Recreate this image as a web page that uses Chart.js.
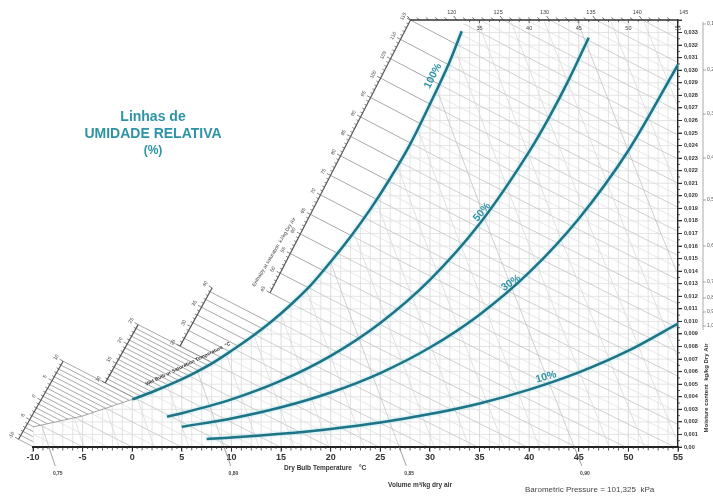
<!DOCTYPE html>
<html>
<head>
<meta charset="utf-8">
<title>Carta psicrométrica</title>
<script src="https://cdn.jsdelivr.net/npm/chart.js@4.4.1/dist/chart.umd.min.js"></script>
<style>
  html, body { margin: 0; padding: 0; background: #fff; }
  canvas { display: block; }
</style>
</head>
<body>
<canvas id="carta" width="713" height="497"></canvas>
<script>
// Curva de saturação (°C, kg/kg ar seco)
const tempSat = [-10, -5, 0, 2, 4, 6, 8, 10, 12, 14, 16, 18, 20, 22, 24, 26, 28, 30, 32, 33.2, 33.6];
const umidSat = [0.0016, 0.00247, 0.00379, 0.00438, 0.00504, 0.00579, 0.00664, 0.00766, 0.00875, 0.00997, 0.01135,
                 0.01289, 0.01475, 0.01674, 0.01894, 0.0214, 0.0241, 0.0273, 0.0307, 0.0331, 0.034];

// Linhas de umidade relativa
const temp50 = [3.5, 5, 10, 15, 20, 25, 30, 35, 40, 42, 44, 46];
const umid50 = [0.00242, 0.00269, 0.00379, 0.00528, 0.00726, 0.00988, 0.01331, 0.01777, 0.02352, 0.02623, 0.02925, 0.03259];
const temp30 = [5, 10, 15, 20, 25, 30, 35, 40, 45, 50, 55];
const umid30 = [0.00161, 0.00227, 0.00316, 0.00434, 0.00589, 0.00792, 0.01054, 0.0139, 0.01818, 0.02361, 0.03044];
const temp10 = [7.5, 10, 15, 20, 25, 30, 35, 40, 45, 50, 55];
const umid10 = [0.00064, 0.00075, 0.00105, 0.00144, 0.00195, 0.00262, 0.00347, 0.00457, 0.00594, 0.00767, 0.00983];
const rotulosUR = ['100%', '50%', '30%', '10%'];

// Escalas auxiliares
const volumesRotulo = [0.75, 0.80, 0.85, 0.90];
const textosVolume = ['0,75', '0,80', '0,85', '0,90'];
const entalpiasTopo = [120, 125, 130, 135, 140, 145];
const tempsTopo = [35, 40, 45, 50, 55];
const rotulosFCS = ['0,1', '0,2', '0,3', '0,4', '0,5', '0,6', '0,7', '0,8', '0,9', '1,0'];

const P_ATM = 101.325;
const umidMax = 0.034;
const FONTE = '"Liberation Sans", Arial, sans-serif';
const COR_CURVA = '#1d7486';
const COR_TEXTO = '#2f93a6';

function entalpia(t, w) { return 1.006 * t + w * (2501 + 1.86 * t); }
function umidPorEntalpia(h, t) { return (h - 1.006 * t) / (2501 + 1.86 * t); }
function tempPorVolume(v, w) { return v * P_ATM / (0.287042 * (1 + 1.6078 * w)) - 273.15; }

function pontos(ts, ws) { return ts.map((t, i) => ({ x: t, y: ws[i] })); }

// ponto da curva de saturação com a entalpia h
function pontoSaturacao(h) {
    let hAnt = entalpia(tempSat[0], umidSat[0]);
    if (h <= hAnt) return [tempSat[0], umidPorEntalpia(h, tempSat[0])];
    for (let i = 1; i < tempSat.length; i++) {
        const hi = entalpia(tempSat[i], umidSat[i]);
        if (h <= hi) {
            const f = (h - hAnt) / (hi - hAnt);
            return [tempSat[i - 1] + f * (tempSat[i] - tempSat[i - 1]), umidSat[i - 1] + f * (umidSat[i] - umidSat[i - 1])];
        }
        hAnt = hi;
    }
    return [tempSat[tempSat.length - 1], umidSat[umidSat.length - 1]];
}

function px(xs, ys, t, w) { return [xs.getPixelForValue(t), ys.getPixelForValue(w)]; }

function linhaDados(ctx, xs, ys, pts) {
    ctx.beginPath();
    pts.forEach((p, i) => {
        const q = px(xs, ys, p[0], p[1]);
        if (i === 0) ctx.moveTo(q[0], q[1]); else ctx.lineTo(q[0], q[1]);
    });
    ctx.stroke();
}

function linha(ctx, a, b) {
    ctx.beginPath();
    ctx.moveTo(a[0], a[1]);
    ctx.lineTo(b[0], b[1]);
    ctx.stroke();
}

function texto(ctx, s, x, y, fonte, cor, ang, alinh) {
    ctx.save();
    ctx.translate(x, y);
    if (ang) ctx.rotate(ang * Math.PI / 180);
    ctx.font = fonte;
    ctx.fillStyle = cor;
    ctx.textAlign = alinh || 'center';
    ctx.textBaseline = 'middle';
    ctx.fillText(s, 0, 0);
    ctx.restore();
}

function caminhoMalha(ctx, xs, ys) {
    ctx.beginPath();
    let p = px(xs, ys, -10, 0);
    ctx.moveTo(p[0], p[1]);
    for (let i = 0; i < tempSat.length; i++) {
        p = px(xs, ys, tempSat[i], umidSat[i]);
        ctx.lineTo(p[0], p[1]);
    }
    p = px(xs, ys, 55, umidMax); ctx.lineTo(p[0], p[1]);
    p = px(xs, ys, 55, 0); ctx.lineTo(p[0], p[1]);
    ctx.closePath();
}

// p + s*d cruzando o segmento a-b
function intersecao(p, d, a, b) {
    const ex = b[0] - a[0], ey = b[1] - a[1];
    const den = d[0] * ey - d[1] * ex;
    const s = ((a[0] - p[0]) * ey - (a[1] - p[1]) * ex) / den;
    return [p[0] + s * d[0], p[1] + s * d[1]];
}

// escalas de entalpia à esquerda, em degraus
const segmentos = [
    { de: -10, ate: 10, passo: 1, a: [-11.5, 0.00056], b: [-7.2, 0.0065] },
    { de: 10, ate: 25, passo: 1, a: [-2.95, 0.00478], b: [0.6, 0.00975] },
    { de: 25, ate: 40, passo: 2, a: [4.6, 0.00772], b: [8.05, 0.01266] },
    { de: 45, ate: 115, passo: 5, a: [13.88, 0.01226], b: [28.05, 0.034] }
];

function desenhaEscalas(ctx, xs, ys) {
    segmentos.forEach(seg => {
        const a = px(xs, ys, seg.a[0], seg.a[1]);
        const b = px(xs, ys, seg.b[0], seg.b[1]);
        const comp = Math.hypot(b[0] - a[0], b[1] - a[1]);
        const e = [(b[0] - a[0]) / comp, (b[1] - a[1]) / comp];
        const n = [e[1], -e[0]];
        const ang = Math.atan2(e[1], e[0]) * 180 / Math.PI;

        const naEscala = h => {
            const s = pontoSaturacao(h);
            const p = px(xs, ys, s[0], s[1]);
            const q = px(xs, ys, s[0] - 5, umidPorEntalpia(h, s[0] - 5));
            return { sat: p, esc: intersecao(p, [q[0] - p[0], q[1] - p[1]], a, b) };
        };

        // linhas de entalpia até a saturação
        ctx.strokeStyle = '#939393';
        ctx.lineWidth = 0.8;
        for (let h = seg.de; h <= seg.ate; h += seg.passo) {
            const r = naEscala(h);
            linha(ctx, r.esc, r.sat);
        }

        // régua
        const ini = naEscala(seg.de).esc, fim = naEscala(seg.ate).esc;
        ctx.strokeStyle = '#555';
        ctx.lineWidth = 1.2;
        linha(ctx, ini, fim);
        ctx.lineWidth = 0.7;
        for (let h = seg.de; h <= seg.ate; h += 1) {
            const r = naEscala(h).esc;
            const l = h % 5 === 0 ? 4 : 2.5;
            linha(ctx, r, [r[0] + n[0] * l, r[1] + n[1] * l]);
        }
        for (let h = Math.ceil(seg.de / 5) * 5; h <= seg.ate; h += 5) {
            const r = naEscala(h).esc;
            texto(ctx, String(h), r[0] + n[0] * 8, r[1] + n[1] * 8, '5px ' + FONTE, '#444', ang);
        }
    });
}

const diagrama = {
    id: 'diagrama',
    beforeDraw(chart) {
        const ctx = chart.ctx, xs = chart.scales.x, ys = chart.scales.y;

        ctx.save();
        caminhoMalha(ctx, xs, ys);
        ctx.clip();
        ctx.lineWidth = 0.7;
        for (let t = -10; t < 55; t++) {
            ctx.strokeStyle = t % 5 === 0 ? '#cbcbcb' : '#dadada';
            linhaDados(ctx, xs, ys, [[t, 0], [t, umidMax]]);
        }
        ctx.strokeStyle = '#dadada';
        for (let k = 1; k <= 34; k++) {
            linhaDados(ctx, xs, ys, [[-10, k / 1000], [55, k / 1000]]);
        }
        for (let h = -10; h <= 150; h += 2.5) {
            ctx.strokeStyle = h % 5 === 0 ? '#bdbdbd' : '#dcdcdc';
            const pts = [];
            for (let t = -10; t <= 55; t += 5) pts.push([t, umidPorEntalpia(h, t)]);
            linhaDados(ctx, xs, ys, pts);
        }
        for (let i = 0; i <= 23; i++) {
            const v = 0.74 + i * 0.01;
            ctx.strokeStyle = Math.round(v * 100) % 5 === 0 ? '#bdbdbd' : '#d6d6d6';
            linhaDados(ctx, xs, ys, [0, 0.017, umidMax].map(w => [tempPorVolume(v, w), w]));
        }
        ctx.restore();

        // saturação abaixo de 0 °C
        ctx.save();
        ctx.strokeStyle = '#9a9a9a';
        ctx.lineWidth = 0.9;
        linhaDados(ctx, xs, ys, tempSat.slice(0, 3).map((t, i) => [t, umidSat[i]]));
        ctx.restore();

        ctx.save();
        desenhaEscalas(ctx, xs, ys);
        ctx.restore();
    },
    beforeDatasetDraw(chart) {
        chart.ctx.save();
        chart.ctx.shadowColor = 'rgba(150, 215, 225, 0.9)';
        chart.ctx.shadowBlur = 3;
    },
    afterDatasetDraw(chart) {
        chart.ctx.restore();
    },
    afterDraw(chart) {
        const ctx = chart.ctx, xs = chart.scales.x, ys = chart.scales.y;
        const area = chart.chartArea;
        ctx.save();

        // régua do eixo de bulbo seco
        ctx.strokeStyle = '#333';
        ctx.lineWidth = 0.8;
        for (let t = -10; t <= 55; t += 0.5) {
            const x = xs.getPixelForValue(t);
            const l = t % 5 === 0 ? 5 : (t % 1 === 0 ? 3.5 : 2);
            linha(ctx, [x, area.bottom], [x, area.bottom + l]);
        }
        // régua da umidade absoluta
        for (let k = 0; k <= 68; k++) {
            const y = ys.getPixelForValue(k * 0.0005);
            linha(ctx, [area.right, y], [area.right + (k % 2 === 0 ? 4 : 2), y]);
        }

        // volume específico
        ctx.strokeStyle = '#777';
        ctx.lineWidth = 0.7;
        volumesRotulo.forEach((v, i) => {
            const a = px(xs, ys, tempPorVolume(v, 0), 0);
            const b = px(xs, ys, tempPorVolume(v, -0.0015), -0.0015);
            linha(ctx, a, b);
            const c = px(xs, ys, tempPorVolume(v, -0.0021), -0.0021);
            texto(ctx, textosVolume[i], c[0], c[1], 'bold 5px ' + FONTE, '#444');
        });

        // escala superior
        const tCanto = (115 - umidMax * 2501) / (1.006 + umidMax * 1.86);
        const yTopo = ys.getPixelForValue(umidMax);
        ctx.strokeStyle = '#333';
        ctx.lineWidth = 1.4;
        linha(ctx, [xs.getPixelForValue(tCanto), yTopo], [area.right, yTopo]);
        ctx.lineWidth = 0.7;
        for (let h = 115; h <= 150; h++) {
            const t = (h - umidMax * 2501) / (1.006 + umidMax * 1.86);
            if (t > 55) break;
            const x = xs.getPixelForValue(t);
            linha(ctx, [x, yTopo], [x - 3, yTopo - (h % 5 === 0 ? 4 : 2.5)]);
        }
        for (let t = 34; t <= 55; t++) {
            const x = xs.getPixelForValue(t);
            linha(ctx, [x, yTopo], [x, yTopo + (t % 5 === 0 ? 3 : 2)]);
        }
        entalpiasTopo.forEach(h => {
            const t = (h - umidMax * 2501) / (1.006 + umidMax * 1.86);
            texto(ctx, String(h), xs.getPixelForValue(t) - 5, yTopo - 8, '5.5px ' + FONTE, '#444');
        });
        tempsTopo.forEach(t => {
            texto(ctx, String(t), xs.getPixelForValue(t), yTopo + 8, '5.5px ' + FONTE, '#444');
        });

        // textos das curvas
        const posUR = [[433, 76, -63], [482, 212, -50], [511, 283, -34], [546, 377, -16]];
        rotulosUR.forEach((s, i) => {
            texto(ctx, s, posUR[i][0], posUR[i][1], 'bold 10.5px ' + FONTE, COR_TEXTO, posUR[i][2]);
        });

        texto(ctx, 'Linhas de', 153, 117, 'bold 14px ' + FONTE, COR_TEXTO);
        texto(ctx, 'UMIDADE RELATIVA', 153, 134, 'bold 14px ' + FONTE, COR_TEXTO);
        texto(ctx, '(%)', 153, 151, 'bold 12px ' + FONTE, COR_TEXTO);

        texto(ctx, 'Enthalpy at saturation  kJ/kg Dry Air', 274, 252, '5px ' + FONTE, '#444', -59);
        texto(ctx, 'Wet Bulb or Saturation Temperature  °C', 188, 364, 'bold 5px ' + FONTE, '#333', -26);

        texto(ctx, 'Dry Bulb Temperature    °C', 284, 468, 'bold 6.5px ' + FONTE, '#333', 0, 'left');
        texto(ctx, 'Volume m³/kg dry air', 420, 485, 'bold 6.5px ' + FONTE, '#333');
        texto(ctx, 'Barometric Pressure = 101,325  kPa', 525, 490, '8px ' + FONTE, '#444', 0, 'left');
        texto(ctx, 'Moisture content  kg/kg Dry Air', 706, 388, 'bold 6px ' + FONTE, '#333', -90);

        // fator de calor sensível (cortado na borda)
        ctx.strokeStyle = '#888';
        ctx.lineWidth = 0.7;
        linha(ctx, [703, 22], [703, 330]);
        const yFCS = [24, 70, 114, 158, 200, 246, 282, 298, 312, 326];
        rotulosFCS.forEach((s, i) => {
            linha(ctx, [703, yFCS[i]], [706, yFCS[i]]);
            texto(ctx, s, 707, yFCS[i], '5px ' + FONTE, '#555', 0, 'left');
        });

        ctx.restore();
    }
};

const ctx = document.getElementById('carta').getContext('2d');

const curva = (dados) => ({
    data: dados,
    borderColor: COR_CURVA,
    borderWidth: 2.5,
    pointRadius: 0,
    fill: false,
    cubicInterpolationMode: 'monotone'
});

const cartaPsicrometrica = new Chart(ctx, {
    type: 'line',
    data: {
        datasets: [
            curva(pontos(tempSat.slice(2, 20), umidSat.slice(2, 20))),
            curva(pontos(temp50, umid50)),
            curva(pontos(temp30, umid30)),
            curva(pontos(temp10, umid10))
        ]
    },
    options: {
        responsive: false,
        animation: false,
        devicePixelRatio: 1,
        events: [],
        layout: { padding: { left: 33, top: 20, right: 0, bottom: 0 } },
        plugins: { legend: { display: false }, tooltip: { enabled: false } },
        scales: {
            x: {
                type: 'linear',
                position: 'bottom',
                min: -10,
                max: 55,
                afterFit(scale) { scale.height = 50; },
                ticks: {
                    stepSize: 5,
                    autoSkip: false,
                    maxRotation: 0,
                    padding: 1,
                    color: '#333',
                    font: { family: FONTE, size: 9, weight: 'bold' }
                },
                grid: { drawOnChartArea: false, drawTicks: true, tickLength: 4, color: '#333' },
                border: { display: true, color: '#222', width: 2 }
            },
            y: {
                type: 'linear',
                position: 'right',
                min: 0,
                max: umidMax,
                afterFit(scale) { scale.width = 35; },
                ticks: {
                    stepSize: 0.001,
                    autoSkip: false,
                    padding: 2,
                    color: '#333',
                    font: { family: FONTE, size: 5.5, weight: 'bold' },
                    callback: (v) => {
                        if (v > 0.0335) return '';
                        if (v < 0.0001) return '0,00';
                        return v.toFixed(3).replace('.', ',');
                    }
                },
                grid: { drawOnChartArea: false, drawTicks: true, tickLength: 4, color: '#333' },
                border: { display: true, color: '#222', width: 1.4 }
            }
        }
    },
    plugins: [diagrama]
});
</script>
</body>
</html>
